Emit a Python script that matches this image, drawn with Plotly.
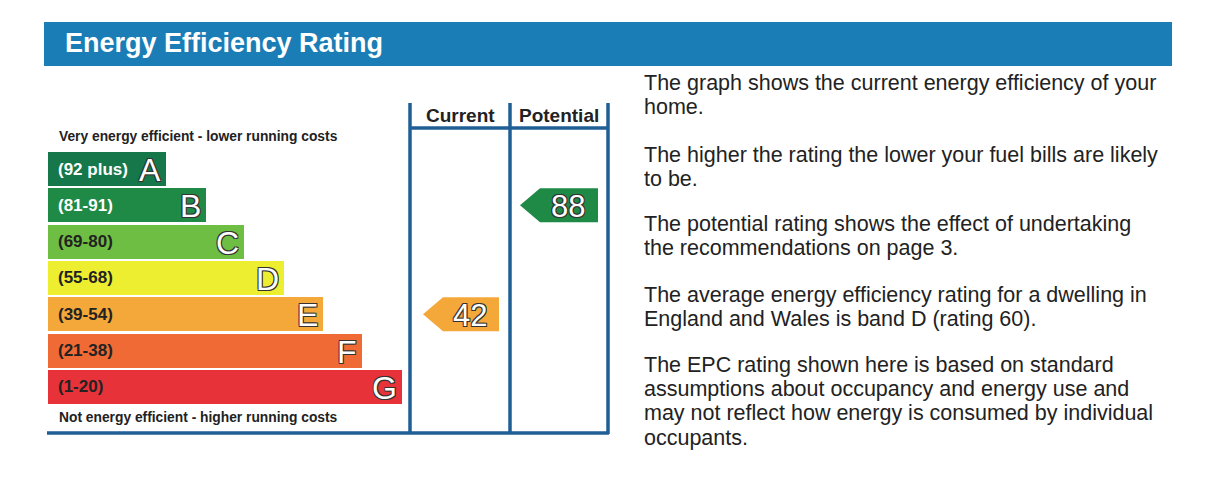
import plotly.graph_objects as go

bands = ["A", "B", "C", "D", "E", "F", "G"]
ranges = ["(92 plus)", "(81-91)", "(69-80)", "(55-68)", "(39-54)", "(21-38)", "(1-20)"]
lows = [92, 81, 69, 55, 39, 21, 1]
bar_len = [118, 158, 196, 236, 275, 314, 354]
colors = ["#16784a", "#1f8a45", "#6fbe44", "#eeee30", "#f4a83a", "#f06a35", "#e7323a"]
current = 42
potential = 88
paragraphs = [
    ["The graph shows the current energy efficiency of your", "home."],
    ["The higher the rating the lower your fuel bills are likely", "to be."],
    ["The potential rating shows the effect of undertaking", "the recommendations on page 3."],
    ["The average energy efficiency rating for a dwelling in", "England and Wales is band D (rating 60)."],
    ["The EPC rating shown here is based on standard",
     "assumptions about occupancy and energy use and",
     "may not reflect how energy is consumed by individual",
     "occupants."],
]

X0 = 48
ROW0, STEP, H = 169, 36.3, 34
rows_y = [ROW0 + i * STEP for i in range(len(bands))]
BLUE = "#1f5f96"
FONT = "Liberation Sans, Arial, sans-serif"
OUTLINE = "1px 1px 0 #333, -1px -1px 0 #333, 1px -1px 0 #333, -1px 1px 0 #333"

fig = go.Figure()
fig.add_trace(go.Bar(y=rows_y, x=bar_len, base=X0, orientation="h", width=H,
                     marker=dict(color=colors, line=dict(width=0)), hoverinfo="skip"))

ann = []
for y, r, b, L, c in zip(rows_y, ranges, bands, bar_len, colors):
    txtc = "#ffffff" if b in "AB" else "#222222"
    ann.append(dict(x=X0 + 8, y=y, text=f"<b>{r}</b>", xanchor="left", showarrow=False,
                    font=dict(size=17, color=txtc, family=FONT)))
    ann.append(dict(x=X0 + L - 3, y=y + 1, text=b, xanchor="right", showarrow=False,
                    font=dict(size=32, color="#ffffff", family=FONT, shadow=OUTLINE)))

def band_index(v):
    for i, lo in enumerate(lows):
        if v >= lo:
            return i
    return len(lows) - 1

shapes = []
def arrow(v, xl, xr):
    i = band_index(v)
    y = rows_y[i]
    h = H / 2
    path = f"M {xl},{y} L {xl+20},{y-h} L {xr},{y-h} L {xr},{y+h} L {xl+20},{y+h} Z"
    shapes.append(dict(type="path", path=path, fillcolor=colors[i], line=dict(width=0), layer="below"))
    ann.append(dict(x=(xl + xr) / 2 + 9, y=y + 1, text=str(v), showarrow=False,
                    font=dict(size=31, color="#ffffff", family=FONT, shadow=OUTLINE)))

arrow(current, 423, 499)
arrow(potential, 520, 598)

shapes.append(dict(type="rect", x0=44, x1=1172, y0=22, y1=66, fillcolor="#1a7db6", line=dict(width=0), layer="below"))
ann.append(dict(x=63, y=43, text="<b>Energy Efficiency Rating</b>", xanchor="left", showarrow=False,
                font=dict(size=27, color="#ffffff", family=FONT)))
for xv in [410, 510, 608]:
    shapes.append(dict(type="line", x0=xv, x1=xv, y0=103, y1=434, line=dict(color=BLUE, width=3.5)))
shapes.append(dict(type="line", x0=410, x1=608, y0=128, y1=128, line=dict(color=BLUE, width=3.5)))
shapes.append(dict(type="line", x0=47, x1=609, y0=433, y1=433, line=dict(color=BLUE, width=3.5)))
ann.append(dict(x=460, y=115, text="<b>Current</b>", showarrow=False, font=dict(size=19, color="#222", family=FONT)))
ann.append(dict(x=559, y=115, text="<b>Potential</b>", showarrow=False, font=dict(size=19, color="#222", family=FONT)))
ann.append(dict(x=X0 + 9, y=136, text="<b>Very energy efficient - lower running costs</b>", xanchor="left",
                showarrow=False, font=dict(size=13.8, color="#222", family=FONT)))
ann.append(dict(x=X0 + 9, y=417, text="<b>Not energy efficient - higher running costs</b>", xanchor="left",
                showarrow=False, font=dict(size=13.8, color="#222", family=FONT)))

para_y = [83, 155, 224, 295, 365]
for py, lines in zip(para_y, paragraphs):
    for k, line in enumerate(lines):
        ann.append(dict(x=642, y=py + k * 24.2, text=line, xanchor="left", showarrow=False,
                        font=dict(size=21.5, color="#222", family=FONT)))

fig.update_layout(width=1205, height=480, margin=dict(l=0, r=0, t=0, b=0),
                  paper_bgcolor="white", plot_bgcolor="white", showlegend=False,
                  xaxis=dict(range=[8, 1213], visible=False, fixedrange=True),
                  yaxis=dict(range=[488, 8], visible=False, fixedrange=True),
                  shapes=shapes, annotations=ann, bargap=0)
fig.write_html("out.html")
